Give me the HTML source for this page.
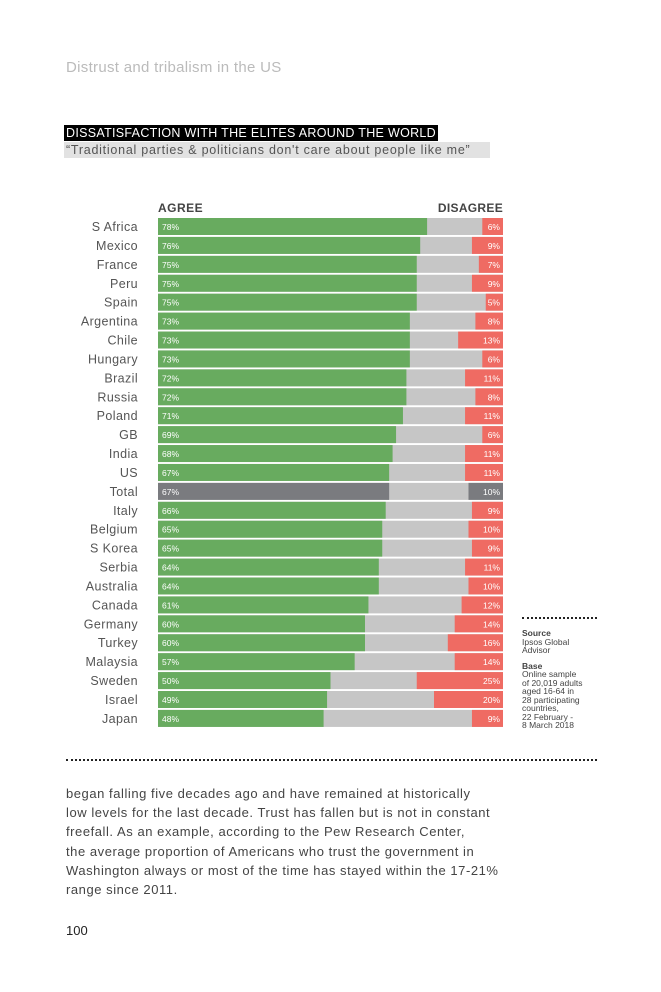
<!DOCTYPE html>
<html><head><meta charset="utf-8"><style>
body{margin:0;width:661px;height:992px;background:#fff;font-family:"Liberation Sans",sans-serif;position:relative;overflow:hidden}
.a{position:absolute;white-space:nowrap}
</style></head><body>
<div class="a" style="left:66px;top:59px;font-size:15px;color:#bbb;letter-spacing:0.3px">Distrust and tribalism in the US</div>
<div class="a" style="left:64px;top:125px;background:#000;color:#fff;font-size:12.5px;padding:1px 2px;letter-spacing:0.3px">DISSATISFACTION WITH THE ELITES AROUND THE WORLD</div>
<div class="a" style="left:64px;top:142px;background:#e2e2e2;color:#555;font-size:12.5px;padding:1px 2px;width:422px;letter-spacing:0.75px">“Traditional parties &amp; politicians don't care about people like me”</div>
<svg id="chart" width="661" height="992" style="position:absolute;left:0;top:0"></svg>
<div class="a" style="left:522px;top:617px;width:75px;border-top:2px dotted #222"></div>
<div class="a" style="left:522px;top:629px;font-size:8.5px;line-height:8.5px;color:#444;white-space:normal;width:80px"><b>Source</b><br>Ipsos Global<br>Advisor<br><div style="height:7px"></div><b>Base</b><br>Online sample<br>of 20,019 adults<br>aged 16-64 in<br>28 participating<br>countries,<br>22 February -<br>8 March 2018</div>
<div class="a" style="left:66px;top:759px;width:531px;border-top:2px dotted #222"></div>
<div class="a" style="left:66px;top:784px;font-size:13px;line-height:19.2px;color:#444;letter-spacing:0.55px">began falling five decades ago and have remained at historically<br>low levels for the last decade. Trust has fallen but is not in constant<br>freefall. As an example, according to the Pew Research Center,<br>the average proportion of Americans who trust the government in<br>Washington always or most of the time has stayed within the 17-21%<br>range since 2011.</div>
<div class="a" style="left:66px;top:923px;font-size:13px;color:#222">100</div>
<script>
const countries=["S Africa","Mexico","France","Peru","Spain","Argentina","Chile","Hungary","Brazil","Russia","Poland","GB","India","US","Total","Italy","Belgium","S Korea","Serbia","Australia","Canada","Germany","Turkey","Malaysia","Sweden","Israel","Japan"];
const agree=[78,76,75,75,75,73,73,73,72,72,71,69,68,67,67,66,65,65,64,64,61,60,60,57,50,49,48];
const disagree=[6,9,7,9,5,8,13,6,11,8,11,6,11,11,10,9,10,9,11,10,12,14,16,14,25,20,9];
const NS="http://www.w3.org/2000/svg";
const svg=document.getElementById('chart');
const X0=158,W=345,Y0=218,P=18.92,BH=17;
const x=v=>X0+v/100*W;
const y=i=>Y0+i*P;
function el(t,a){const e=document.createElementNS(NS,t);for(const k in a)e.setAttribute(k,a[k]);svg.appendChild(e);return e;}
let h=el('text',{x:158,y:212,'font-size':12,'font-weight':'bold',fill:'#444','letter-spacing':'0.5'});h.textContent='AGREE';


h=el('text',{x:503,y:212,'font-size':12,'font-weight':'bold',fill:'#444','text-anchor':'end','letter-spacing':'0.3'});h.textContent='DISAGREE';


countries.forEach((c,i)=>{
  const tot=c==='Total';
  const yy=y(i);
  const l=el('text',{x:138,y:yy+13,'font-size':12.5,fill:'#555','text-anchor':'end','letter-spacing':'0.4'});l.textContent=c;
  
  
  const g=el('rect',{x:x(0),y:yy,width:x(100)-x(0),height:BH,fill:'#c6c6c6'});
  
  
  const a=el('rect',{x:x(0),y:yy,width:x(agree[i])-x(0),height:BH,fill:tot?'#7a7b7f':'#68ab5f'});
  
  
  const d=el('rect',{x:x(100-disagree[i]),y:yy,width:x(100)-x(100-disagree[i]),height:BH,fill:tot?'#7a7b7f':'#ef6b63'});
  
  
  const at=el('text',{x:x(0)+4,y:yy+12,'font-size':8.5,fill:'#fff'});at.textContent=agree[i]+'%';
  
  
  const dt=el('text',{x:x(100)-3,y:yy+12,'font-size':8.5,fill:'#fff','text-anchor':'end'});dt.textContent=disagree[i]+'%';
  
  
});
</script>
</body></html>
